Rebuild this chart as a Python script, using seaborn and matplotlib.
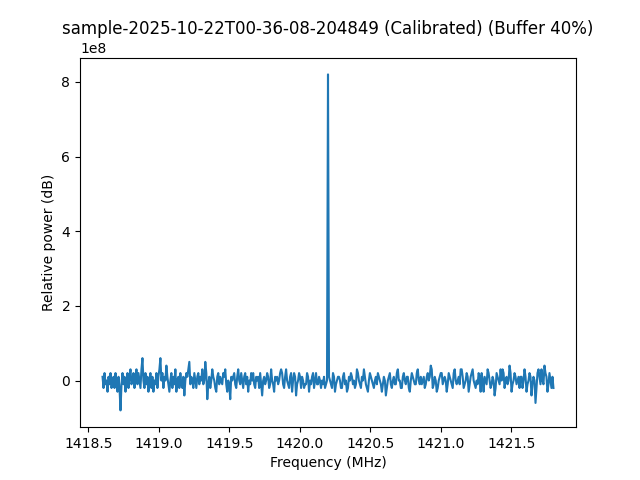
import numpy as np
import pandas as pd
import matplotlib
matplotlib.use("Agg")
import matplotlib.pyplot as plt
import seaborn as sns

title = "sample-2025-10-22T00-36-08-204849 (Calibrated) (Buffer 40%)"
x_label = "Frequency (MHz)"
y_label = "Relative power (dB)"

freq_start = 1418.6
freq_stop = 1421.8

# relative power, in units of 1e7
power_1e7 = [
    1, -2, 2, -1, 0, -3, 1, -1, 2, -2, 0, 1, -2, 2, -1, -3, 1, -2, -8, -1,
    2, -1, 1, -3, 0, 2, -2, 1, 3, -1, 0, 2, -2, 1, 3, -1, 2, 0, -2, 3,
    6, 0, -2, 2, -1, 1, -3, 0, 2, -2, 1, -3, 0, -1, 2, -2, 1, 3, 6, 0,
    2, -2, 1, 0, 4, 1, -1, -3, 0, 2, -2, 1, -1, 3, -3, 0, 1, -2, 2, -1,
    -2, 1, -4, 0, 2, 1, 3, 5, -1, 1, 0, -2, 2, 0, -2, 1, 2, -1, 1, 0,
    3, -1, 0, 5, 2, -5, -1, 1, -2, 0, 3, 1, 0, -2, -3, 1, 2, -1, 1, 0,
    -1, 2, 1, 3, -1, -3, 0, -1, -5, 1, 0, 1, 2, -1, -2, 1, 3, 0, -1, 2,
    0, -2, 1, 2, -1, 1, -3, 0, -1, 2, 0, 2, -1, -2, 1, 0, 1, -2, 2, -1,
    -4, 0, 1, -1, 0, 2, 1, -2, -1, 3, 0, -1, -3, 1, 0, 1, -1, 0, 2, 3,
    2, -1, -2, 1, 3, 0, -1, -2, 1, 2, -3, 0, 2, 1, -4, -1, 0, 2, 1, -2,
    1, 0, -2, -1, -1, 2, 1, -3, 0, -1, 1, 2, -2, 0, 2, -1, -1, 1, 0, -2,
    0, -1, 1, -2, -1, 0, 82, 1, 0, -1, -2, 2, 1, -3, -1, 0, 1, 1, 0, -2,
    -2, 1, 2, -1, 0, -3, -2, 1, 0, 2, 1, -1, 0, -2, -1, 3, 2, 0, -1, -2,
    1, 0, 3, 1, -1, -2, -3, 0, 2, 1, 0, -1, -2, 0, 1, -1, 2, 1, 0, -1,
    -3, -1, 1, 0, -4, -2, 0, 1, 2, -1, -2, 0, 1, -1, -1, 2, 3, 0, 0, -2,
    -2, 1, 2, 0, -1, 1, 1, -2, -3, 0, 2, 1, 0, -1, -1, 2, 3, 0, -1, 1,
    -1, 0, 1, -2, -1, 1, 2, 0, 1, 4, 3, -2, -1, 1, 0, -3, -2, 0, 1, 2,
    2, -1, 0, 1, 0, -3, -1, 2, 1, 0, -1, -2, 2, 3, 0, -1, 0, 1, -1, 3,
    3, 1, -2, -1, 0, 2, 1, -3, -1, 1, 2, 3, 0, -1, -2, 0, -1, 2, 1, -3,
    2, 0, -3, 1, 0, -1, 3, 2, 0, -2, -1, 1, 0, -4, -2, 2, 1, 0, -1, 3,
    0, 3, 2, -2, 0, 1, -1, 0, 4, 2, -3, -1, 0, 2, 1, -1, 0, 1, -2, 1,
    1, -2, 0, 3, 1, -3, -1, 0, 2, 1, -4, -1, 1, 0, -6, -2, 2, 3, 1, -1,
    3, 0, -1, 4, 2, 1, -3, -1, 2, 0, -2, 1, -2,
]

power = np.array(power_1e7, dtype=float) * 1e7
freq = np.linspace(freq_start, freq_stop, len(power))
df = pd.DataFrame({"freq": freq, "power": power})

fig, ax = plt.subplots(figsize=(6.4, 4.8), dpi=100)
sns.lineplot(data=df, x="freq", y="power", ax=ax, color="#1f77b4",
             linewidth=1.5, estimator=None, sort=False)
ax.set_title(title)
ax.set_xlabel(x_label)
ax.set_ylabel(y_label)
fig.savefig("out.png", dpi=100)
